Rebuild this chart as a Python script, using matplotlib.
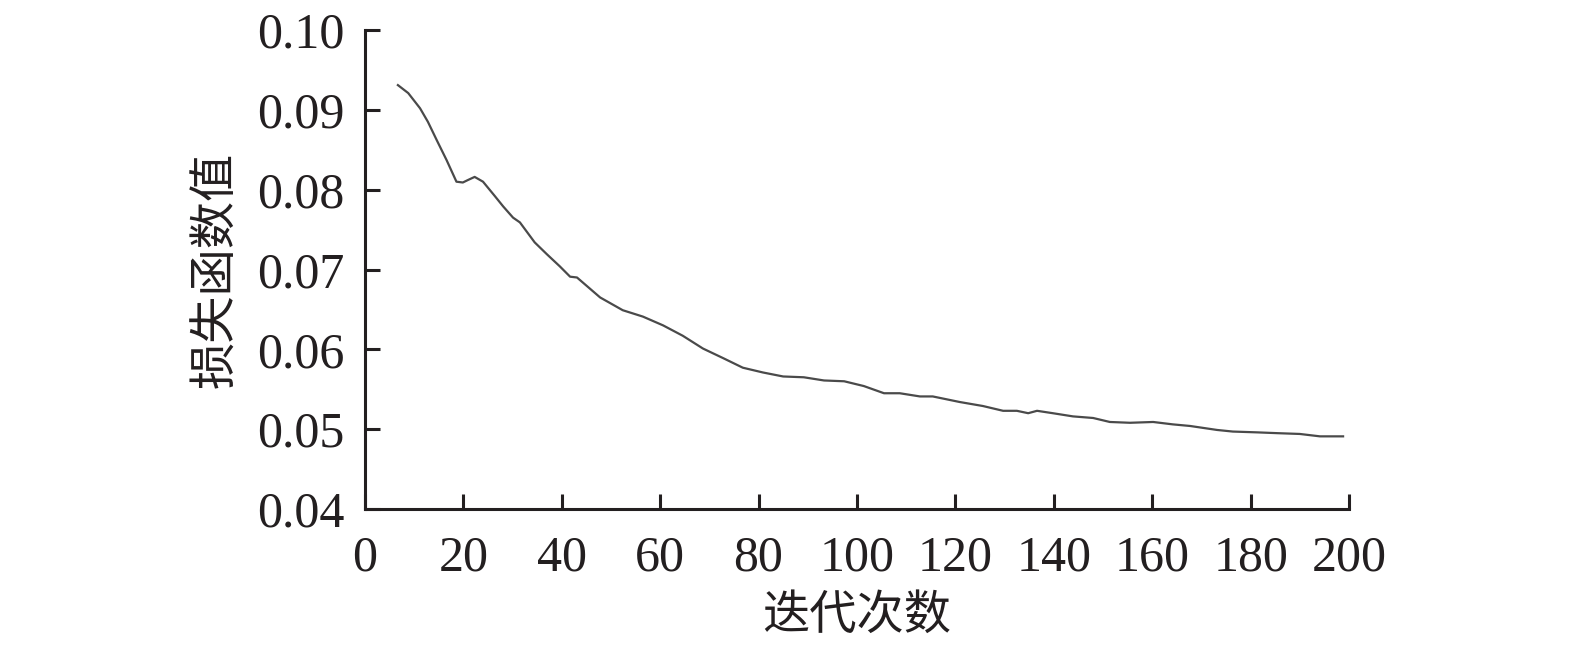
import matplotlib.pyplot as plt

plt.rcParams['font.family'] = ['Liberation Serif', 'Noto Sans CJK SC']

# iteration number vs. loss value
iters = [6.7, 8.8, 11.2, 12.8, 14.6, 16.6, 18.6, 19.9, 20.9, 22.3, 24.0, 26.4,
         28.1, 30.1, 31.5, 34.5, 37.0, 39.6, 41.7, 43.1, 47.8, 52.4, 56.5, 60.6,
         64.6, 68.7, 72.8, 76.8, 80.9, 85.0, 89.2, 93.3, 97.4, 101.4, 105.5,
         108.7, 112.8, 115.4, 120.9, 125.6, 129.7, 132.5, 134.8, 136.6, 139.8,
         143.9, 148.0, 151.4, 155.5, 160.2, 164.2, 167.7, 173.2, 176.4, 181.3,
         185.4, 190.0, 194.1, 198.8]
loss = [0.0931, 0.0921, 0.0902, 0.0885, 0.0862, 0.0837, 0.0810, 0.0809, 0.0812,
        0.0816, 0.0810, 0.0792, 0.0779, 0.0765, 0.0759, 0.0734, 0.0719, 0.0704,
        0.0691, 0.0690, 0.0665, 0.0649, 0.0641, 0.0630, 0.0617, 0.0601, 0.0589,
        0.0577, 0.0571, 0.0566, 0.0565, 0.0561, 0.0560, 0.0554, 0.0545, 0.0545,
        0.0541, 0.0541, 0.0534, 0.0529, 0.0523, 0.0523, 0.0520, 0.0523, 0.0520,
        0.0516, 0.0514, 0.0509, 0.0508, 0.0509, 0.0506, 0.0504, 0.0499, 0.0497,
        0.0496, 0.0495, 0.0494, 0.0491, 0.0491]

xticks = list(range(0, 201, 20))
yticks = [0.04, 0.05, 0.06, 0.07, 0.08, 0.09, 0.10]

fig = plt.figure(figsize=(15.75, 6.47), dpi=100)
ax = fig.add_axes([0.2317, 0.2133, 0.6248, 0.7403])
ax.plot(iters, loss, color='#4a4a4a', linewidth=1.6)

ax.set_xlim(0, 200)
ax.set_ylim(0.04, 0.10)
ax.set_xticks(xticks)
ax.set_yticks(yticks)
ax.set_yticklabels(['%.2f' % v for v in yticks])

for side in ('top', 'right'):
    ax.spines[side].set_visible(False)
for side in ('left', 'bottom'):
    ax.spines[side].set_linewidth(2.2)
    ax.spines[side].set_color('#231f20')

ax.tick_params(axis='both', direction='in', length=10.5, width=2.2,
               colors='#231f20', labelsize=36, labelcolor='#231f20')
ax.tick_params(axis='x', pad=19)
ax.tick_params(axis='y', pad=15)

ax.set_xlabel('迭代次数', fontsize=34, color='#231f20', labelpad=7,
              family=['Noto Sans CJK SC'])
ax.set_ylabel('损失函数值', fontsize=34, color='#231f20', labelpad=12,
              family=['Noto Sans CJK SC'])

fig.savefig('out.png', dpi=100)
